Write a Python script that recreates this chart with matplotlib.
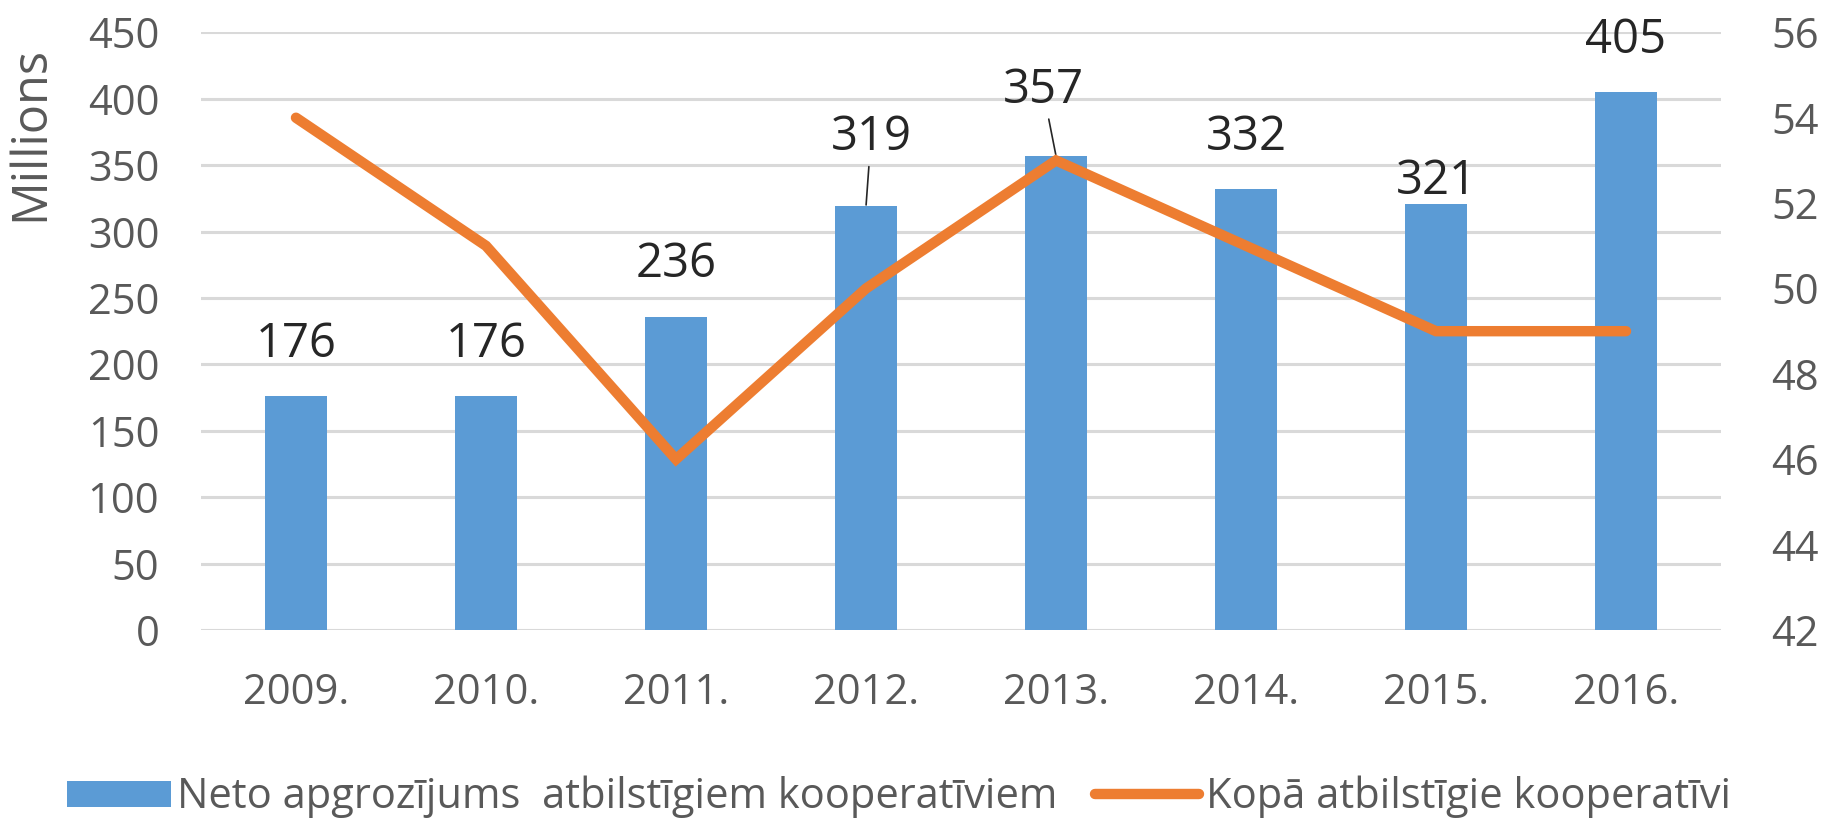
import numpy as np
import matplotlib.pyplot as plt
from matplotlib.patches import Patch
from matplotlib.lines import Line2D

plt.rcParams['font.family'] = ['Open Sans', 'DejaVu Sans']

# Data
years = ['2009.', '2010.', '2011.', '2012.', '2013.', '2014.', '2015.', '2016.']
turnover = [176, 176, 236, 319, 357, 332, 321, 405]      # Millions
coops = [54, 51, 46, 50, 53, 51, 49, 49]

bar_label = 'Neto apgrozījums  atbilstīgiem kooperatīviem'
line_label = 'Kopā atbilstīgie kooperatīvi'

bar_color = '#5B9BD5'
line_color = '#ED7D31'
grid_color = '#D9D9D9'
tick_color = '#595959'

fig = plt.figure(figsize=(18.27, 8.21), dpi=100)
ax = fig.add_axes([0.110, 0.2326, 0.832, 0.728])
x = np.arange(len(years))

ax.bar(x, turnover, width=0.33, color=bar_color, zorder=2)
ax.set_xlim(-0.5, len(years) - 0.5)
ax.set_ylim(0, 450)
ax.set_yticks(np.arange(0, 451, 50))
ax.grid(axis='y', color=grid_color, linewidth=2.2, zorder=0)
ax.set_axisbelow(True)
for s in ax.spines.values():
    s.set_visible(False)
ax.tick_params(axis='both', length=0, labelsize=30, labelcolor=tick_color)
ax.tick_params(axis='y', pad=30)
ax.tick_params(axis='x', pad=30)
ax.set_xticks(x)
ax.set_xticklabels(years)
ax.set_ylabel('Millions', fontsize=35, color=tick_color)
ax.yaxis.set_label_coords(-0.096, 0.83)

# data labels (offsets in pixels; a couple are moved with leader lines)
offsets = {3: (5, 69), 4: (-13, 66), 6: (0, 22)}
for i, v in enumerate(turnover):
    dx, dy = offsets.get(i, (0, 52))
    if i in (3, 4):
        ax.annotate(str(v), xy=(x[i], v), xytext=(dx, dy), textcoords='offset pixels',
                    ha='center', va='center', fontsize=34, color='#262626',
                    arrowprops=dict(arrowstyle='-', color='#262626', lw=1.2,
                                    shrinkA=2, shrinkB=1))
    else:
        ax.annotate(str(v), xy=(x[i], v), xytext=(dx, dy), textcoords='offset pixels',
                    ha='center', va='center', fontsize=34, color='#262626')

ax2 = ax.twinx()
ax2.plot(x, coops, color=line_color, linewidth=7.5, solid_capstyle='round',
         solid_joinstyle='miter', zorder=3)
ax2.set_ylim(42, 56)
ax2.set_yticks(np.arange(42, 57, 2))
for s in ax2.spines.values():
    s.set_visible(False)
ax2.tick_params(axis='y', length=0, labelsize=30, labelcolor=tick_color, pad=36)

handles = [Patch(facecolor=bar_color, edgecolor='none'),
           Line2D([0], [0], color=line_color, linewidth=7.5, solid_capstyle='round')]
fig.legend(handles, [bar_label, line_label], loc='center', bbox_to_anchor=(0.492, 0.029),
           ncol=2, frameon=False, fontsize=30, labelcolor=tick_color,
           handlelength=2.5, handleheight=0.6, handletextpad=0.15, columnspacing=0.9,
           borderpad=0, borderaxespad=0)

fig.savefig('out.png', dpi=100)
